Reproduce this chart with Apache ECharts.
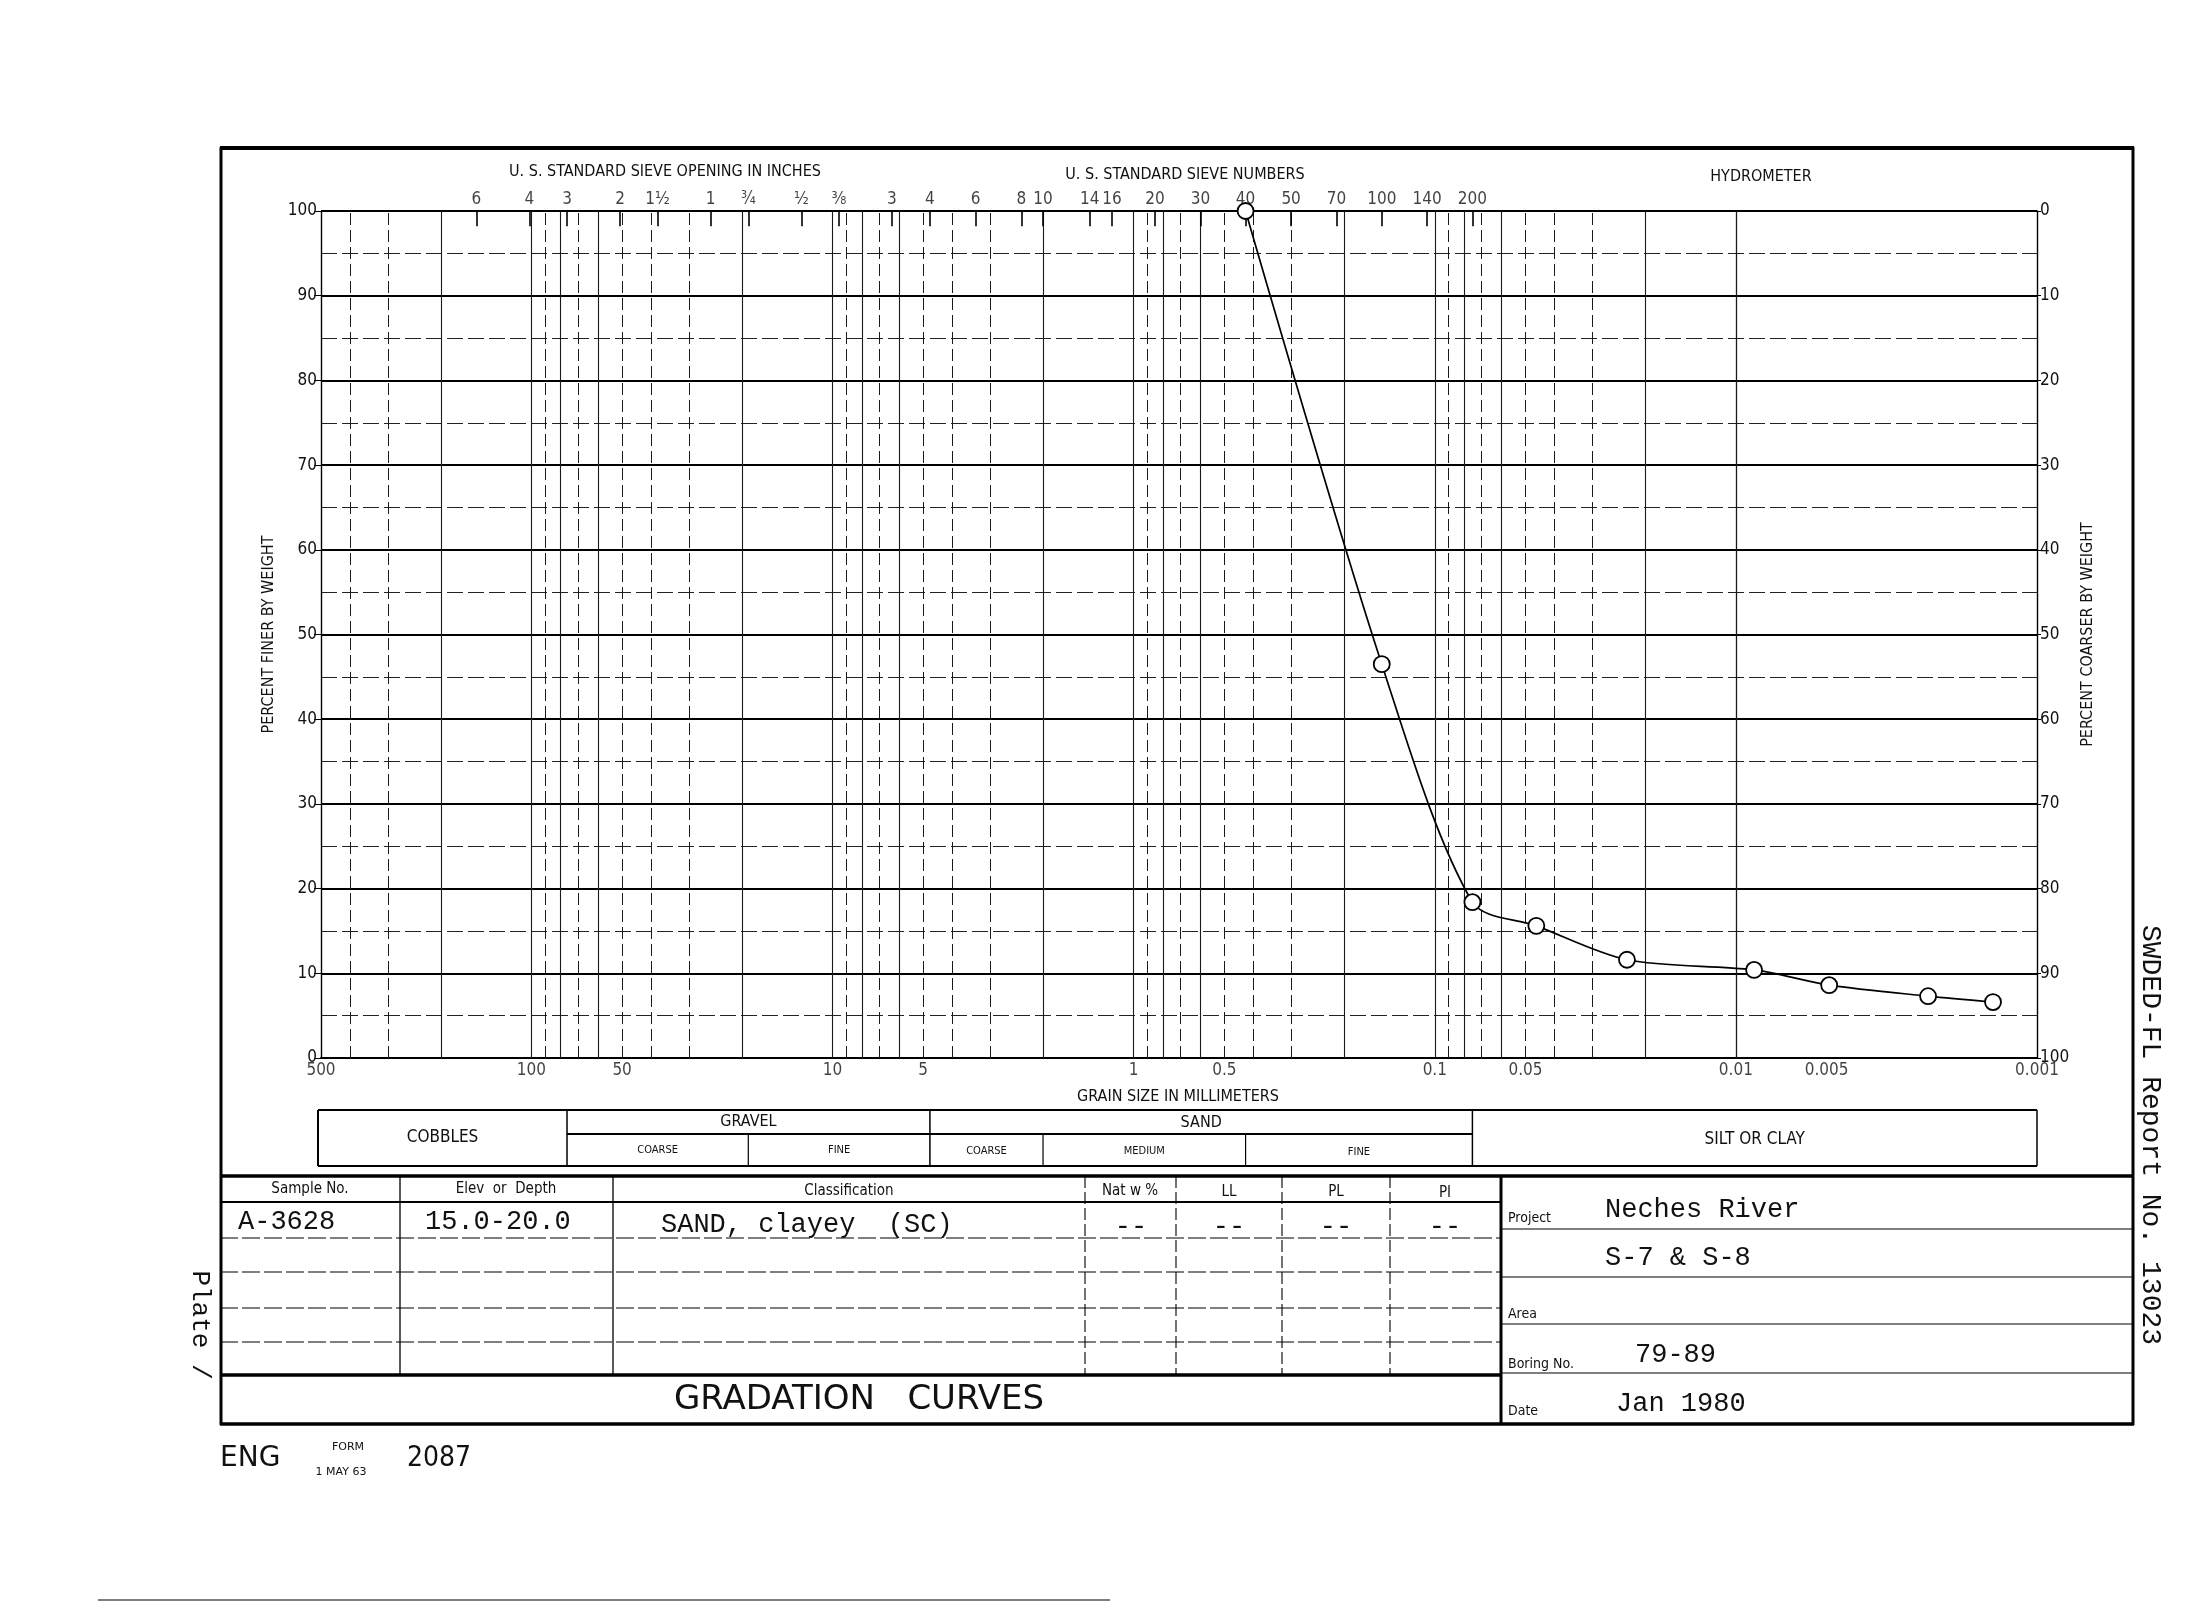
<!DOCTYPE html>
<html><head><meta charset="utf-8">
<script src="https://cdn.jsdelivr.net/npm/echarts@6/dist/echarts.min.js"></script>
<style>html,body{margin:0;padding:0;background:#fff}#c{width:2200px;height:1608px}</style>
</head><body><div id="c"></div>
<script>
// ---- data ----
const grainSizeMm = [0.425, 0.150, 0.075, 0.046, 0.023, 0.0087, 0.0049, 0.0023, 0.0014];
const percentFiner = [100, 46.5, 18.4, 15.6, 11.6, 10.4, 8.6, 7.3, 6.6];
const xTickLabels = ['500','100','50','10','5','1','0.5','0.1','0.05','0.01','0.005','0.001'];
const sieveInchLabels = ['6','4','3','2','1½','1','¾','½','⅜'];
const sieveInchMm = [152.4, 101.6, 76.2, 50.8, 38.1, 25.4, 19.05, 12.7, 9.525];
const sieveNumLabels = ['3','4','6','8','10','14','16','20','30','40','50','70','100','140','200'];
const sieveNumMm = [6.35, 4.75, 3.35, 2.36, 2.0, 1.40, 1.18, 0.85, 0.60, 0.425, 0.30, 0.212, 0.150, 0.106, 0.075];
const soilBoundaryMm = [76.2, 19.05, 4.75, 2.0, 0.425, 0.075];
const gridMantissa = [1,2,3,4,5,6,7,8,9];
const gridDecades = [-3,-2,-1,0,1,2];
const solidMantissa = [1,2,6,8];

const SANS = "'DejaVu Sans Condensed','Liberation Sans Narrow','DejaVu Sans',sans-serif";
const MONO = "'Liberation Mono','DejaVu Sans Mono',monospace";
const INK = '#111';

const chart = echarts.init(document.getElementById('c'), null, {renderer:'canvas'});

// vertical log-cycle grid lines
const vLines = [];
gridDecades.forEach(d => gridMantissa.forEach(m => {
  const v = parseFloat((m * Math.pow(10, d)).toPrecision(3));
  if (v > 0.001 && v < 500) {
    const solid = solidMantissa.indexOf(m) >= 0;
    vLines.push({xAxis: v, lineStyle: {color: '#1a1a1a', width: solid ? 1.1 : 1, type: solid ? 'solid' : [12, 5]}});
  }
}));

const topTicks = sieveInchMm.concat(sieveNumMm).map(s => [
  {coord: [s, 100]}, {coord: [s, 98.2]}
]);

const option = {
  backgroundColor: '#fff',
  animation: false,
  grid: {left: 321, right: 163, top: 211, bottom: 550, containLabel: false},
  xAxis: {
    type: 'log', logBase: 10, min: 0.001, max: 500, inverse: true,
    axisLine: {show: true, onZero: false, lineStyle: {color: '#000', width: 2.2}},
    axisTick: {show: false}, axisLabel: {show: false}, splitLine: {show: false}
  },
  yAxis: [{
    type: 'value', min: 0, max: 100, interval: 10, position: 'left',
    axisLine: {show: true, lineStyle: {color: '#000', width: 1.4}},
    axisTick: {show: true, length: 7, lineStyle: {color: '#000', width: 1}},
    axisLabel: {fontSize: 17, color: INK, fontFamily: SANS, margin: 4},
    splitLine: {show: true, lineStyle: {color: '#000', width: 2}},
    minorTick: {show: false, splitNumber: 2},
    minorSplitLine: {show: true, lineStyle: {color: '#222', width: 1.2, type: [16, 5]}},
    name: 'PERCENT FINER BY WEIGHT', nameLocation: 'middle', nameGap: 33, nameRotate: 90,
    nameTextStyle: {fontSize: 16, fontFamily: SANS, color: INK}
  }, {
    type: 'value', min: 0, max: 100, interval: 10, position: 'right', inverse: true,
    axisLine: {show: true, lineStyle: {color: '#000', width: 1.4}},
    axisTick: {show: true, length: 4, inside: false, lineStyle: {color: '#000', width: 1}},
    axisLabel: {fontSize: 17, color: INK, fontFamily: SANS, margin: 3},
    splitLine: {show: false},
    name: 'PERCENT COARSER BY WEIGHT', nameLocation: 'middle', nameGap: 40, nameRotate: 90,
    nameTextStyle: {fontSize: 16, fontFamily: SANS, color: INK}
  }],
  series: [{
    name: 'xlabels', type: 'scatter', z: 1, silent: true, clip: false,
    symbolSize: 0,
    data: xTickLabels.map(t => ({value: [parseFloat(t), 0], name: t})),
    label: {show: true, position: 'bottom', distance: 4, formatter: '{b}',
            fontSize: 17, fontFamily: SANS, color: INK},
    markLine: {silent: true, symbol: ['none', 'none'], label: {show: false},
               animation: false, data: vLines}
  }, {
    name: 'sieves', type: 'scatter', z: 2, silent: true, clip: false,
    symbolSize: 0,
    data: sieveInchMm.map((s, i) => ({value: [s, 100], name: sieveInchLabels[i]}))
      .concat(sieveNumMm.map((s, i) => ({value: [s, 100], name: sieveNumLabels[i]}))),
    label: {show: true, position: 'top', distance: 3, formatter: '{b}',
            fontSize: 17, fontFamily: SANS, color: INK},
    markLine: {silent: true, symbol: ['none', 'none'], label: {show: false},
               animation: false, lineStyle: {color: '#000', width: 1.6, type: 'solid'},
               data: topTicks}
  }, {
    name: 'gradation', type: 'line', z: 10, clip: false,
    data: grainSizeMm.map((s, i) => [s, percentFiner[i]]),
    smooth: 0.3,
    symbol: 'circle', symbolSize: 16,
    itemStyle: {color: '#fff', borderColor: '#000', borderWidth: 1.8},
    lineStyle: {color: '#000', width: 1.7}
  }]
};
chart.setOption(option);

// ---- form drawing (layout only) ----
const G = [];
function ln(x1, y1, x2, y2, w, dash) {
  G.push({type: 'line', silent: true, z: 50, shape: {x1, y1, x2, y2},
          style: {stroke: '#000', lineWidth: w || 1.2, lineDash: dash || null}});
}
function tx(x, y, t, size, font, align, opt) {
  const o = {type: 'text', silent: true, z: 60, x, y,
    style: Object.assign({text: t, fontSize: size, fontFamily: font || SANS, fill: INK,
      textAlign: align || 'center', textVerticalAlign: 'middle',
      align: align || 'center', verticalAlign: 'middle'}, (opt && opt.style) || {})};
  if (opt && opt.rotation != null) o.rotation = opt.rotation;
  G.push(o);
}

const px = v => chart.convertToPixel({xAxisIndex: 0}, v);
const pL = px(500), pR = px(0.001);

// outer frame
ln(220, 148, 2134, 148, 4);
ln(221, 147, 221, 1425, 3);
ln(2133, 147, 2133, 1425, 3);
ln(220, 1424, 2134, 1424, 3.5);
ln(220, 1176, 2134, 1176, 3.5);

// top captions
tx(665, 172, 'U. S. STANDARD SIEVE OPENING IN INCHES', 16);
tx(1185, 175, 'U. S. STANDARD SIEVE NUMBERS', 16);
tx(1761, 177, 'HYDROMETER', 16);
tx(1178, 1097, 'GRAIN SIZE IN MILLIMETERS', 16);

// soil classification box
const bx = soilBoundaryMm.map(px);
const cL = pL - 3, cR = pR;
const yT = 1110, yM = 1134, yB = 1166;
ln(cL, yT, cR, yT, 2.2); ln(cL, yB, cR, yB, 2.2);
ln(cL, yT, cL, yB, 2); ln(cR, yT, cR, yB, 1.5);
ln(bx[0], yM, bx[5], yM, 2);
[0, 2, 5].forEach(i => ln(bx[i], yT, bx[i], yB, 1.5));
[1, 3, 4].forEach(i => ln(bx[i], yM, bx[i], yB, 1.2));
tx((cL + bx[0]) / 2, 1138, 'COBBLES', 17);
tx((bx[0] + bx[2]) / 2, 1122, 'GRAVEL', 16);
tx((bx[2] + bx[5]) / 2, 1123, 'SAND', 16);
tx((bx[0] + bx[1]) / 2, 1150, 'COARSE', 11);
tx((bx[1] + bx[2]) / 2, 1150, 'FINE', 11);
tx((bx[2] + bx[3]) / 2, 1151, 'COARSE', 11);
tx((bx[3] + bx[4]) / 2, 1151, 'MEDIUM', 11);
tx((bx[4] + bx[5]) / 2, 1152, 'FINE', 11);
tx((bx[5] + cR) / 2, 1140, 'SILT OR CLAY', 17);

// sample table
const cols = [400, 613, 1085, 1176, 1282, 1390];
cols.forEach((x, i) => ln(x, 1176, x, 1375, i < 2 ? 1.3 : 1.1, i < 2 ? null : [12, 4]));
ln(1501, 1176, 1501, 1424, 3);
ln(220, 1202, 1501, 1202, 2);
[1238, 1272, 1308, 1342].forEach(y => ln(220, y, 1501, y, 1.2, [18, 4]));
ln(220, 1375, 1501, 1375, 3.5);
tx(310, 1189, 'Sample No.', 15);
tx(506, 1189, 'Elev  or  Depth', 15);
tx(849, 1191, 'Classification', 15);
tx(1130, 1191, 'Nat w %', 15);
tx(1229, 1192, 'LL', 15);
tx(1336, 1192, 'PL', 15);
tx(1445, 1193, 'PI', 15);
tx(238, 1222, 'A-3628', 27, MONO, 'left');
tx(425, 1222, '15.0-20.0', 27, MONO, 'left');
tx(661, 1225, 'SAND, clayey  (SC)', 27, MONO, 'left');
[1131, 1229, 1336, 1445].forEach(x => tx(x, 1227, '--', 27, MONO));
tx(859, 1400, 'GRADATION   CURVES', 34, "'DejaVu Sans',sans-serif");

// project block
[1229, 1277, 1324, 1373].forEach(y => ln(1501, y, 2134, y, 1.2));
tx(1508, 1218, 'Project', 14, SANS, 'left');
tx(1605, 1210, 'Neches River', 27, MONO, 'left');
tx(1605, 1258, 'S-7 & S-8', 27, MONO, 'left');
tx(1508, 1314, 'Area', 14, SANS, 'left');
tx(1508, 1364, 'Boring No.', 14, SANS, 'left');
tx(1635, 1355, '79-89', 27, MONO, 'left');
tx(1508, 1411, 'Date', 14, SANS, 'left');
tx(1616, 1404, 'Jan 1980', 27, MONO, 'left');

// margins
tx(2150, 1135, 'SWDED-FL Report No. 13023', 28, MONO, 'center', {rotation: -Math.PI / 2});
tx(200, 1325, 'Plate /', 26, MONO, 'center', {rotation: -Math.PI / 2});
tx(220, 1459, 'ENG', 28, "'DejaVu Sans',sans-serif", 'left');
tx(348, 1447, 'FORM', 11, "'DejaVu Sans',sans-serif");
tx(341, 1472, '1 MAY 63', 11, "'DejaVu Sans',sans-serif");
tx(407, 1459, '2087', 28, SANS, 'left');
ln(98, 1600, 1110, 1600, 1.2);

chart.setOption({graphic: {elements: G}});
</script>
</body></html>
